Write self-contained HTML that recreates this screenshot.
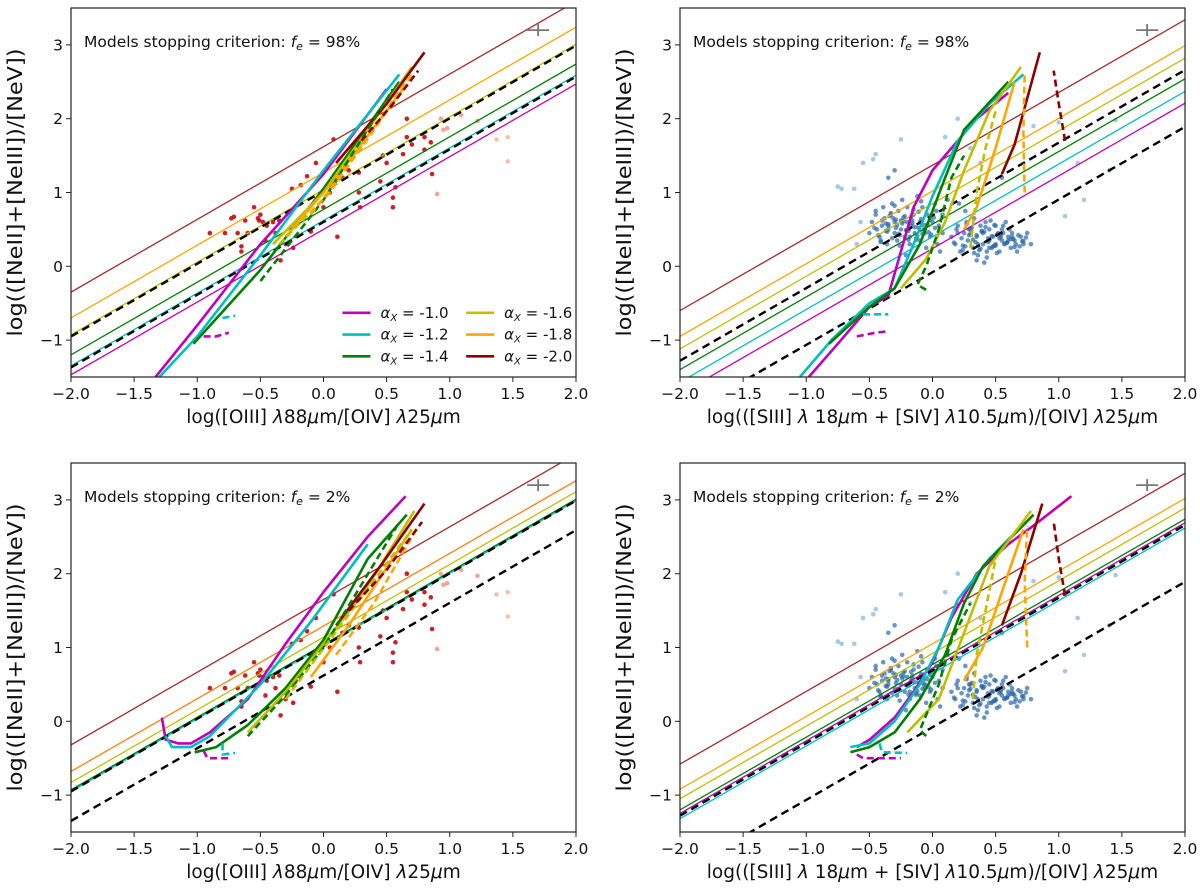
<!DOCTYPE html>
<html><head><meta charset="utf-8"><style>
body{margin:0;background:#fff;}
svg{display:block;font-family:"DejaVu Sans","Liberation Sans",sans-serif;}
</style></head><body>
<svg id="fig" width="1200" height="890" viewBox="0 0 1200 890" xmlns="http://www.w3.org/2000/svg"></svg>
<script>
const xTicks=[-2.0,-1.5,-1.0,-0.5,0.0,0.5,1.0,1.5,2.0];
const yTicks=[-1,0,1,2,3];
const xTickLabels=["\u22122.0","\u22121.5","\u22121.0","\u22120.5","0.0","0.5","1.0","1.5","2.0"];
const yTickLabels=["\u22121","0","1","2","3"];
const seriesNames=["-1.0","-1.2","-1.4","-1.6","-1.8","-2.0"];
const seriesColors=["#bf00bf","#00bfbf","#008000","#bfbf00","#ffa500","#8b0000"];
const diagTL=[["#a52a2a",-0.35],["#ffa500",-0.7],["#bfbf00",-0.93],["#008000",-1.2],["#00bfbf",-1.35],["#bf00bf",-1.47]];
const diagTLdash=[-0.95,-1.37];
const diagTR=[["#a52a2a",-0.6],["#ffa500",-0.95],["#bfbf00",-1.12],["#008000",-1.4],["#00bfbf",-1.57],["#bf00bf",-1.73]];
const diagTRdash=[-1.28,-2.05];
const diagBL=[["#a52a2a",-0.32],["#ff7f0e",-0.68],["#bfbf00",-0.83],["#008000",-0.93],["#00bfbf",-0.95]];
const diagBLdash=[-0.95,-1.35];
const diagBR=[["#a52a2a",-0.58],["#ffa500",-0.92],["#bfbf00",-1.05],["#008000",-1.2],["#bf00bf",-1.25],["#00bfbf",-1.32]];
const diagBRdash=[-1.28,-2.05];
const diagSlope=[0.985];
const redX=[-0.9,-0.78,-0.73,-0.71,-0.68,-0.65,-0.65,-0.62,-0.6,-0.55,-0.52,-0.51,-0.5,-0.48,-0.46,-0.45,-0.4,-0.38,-0.35,-0.34,-0.3,-0.25,-0.24,-0.22,-0.18,-0.13,-0.1,-0.06,0.0,0.05,0.08,0.11,0.15,0.2,0.28,0.28,0.29,0.45,0.47,0.5,0.55,0.55,0.57,0.63,0.66,0.7,0.66,0.8,0.8,0.85,0.86,0.9,0.95,0.98,0.93,1.09,1.22,1.37,1.46,1.46];
const redY=[0.45,0.45,0.65,0.67,0.45,0.27,0.2,0.62,0.45,0.8,0.65,0.62,0.7,0.6,0.35,0.55,0.6,0.45,0.62,0.08,0.3,1.05,0.25,0.55,1.1,1.22,0.47,1.4,0.8,1.0,1.72,0.4,1.2,1.3,1.0,1.27,0.8,1.15,1.5,1.4,0.93,0.8,1.07,1.52,2.0,1.65,1.75,1.58,1.75,1.68,1.25,0.98,1.85,1.87,2.0,2.05,1.97,1.72,1.75,1.42];
const blueX=[-0.75,-0.72,-0.62,-0.57,-0.6,-0.55,-0.47,-0.45,-0.35,-0.3,-0.25,0.2,0.1,0.3,0.38,0.55,0.8,1.0,1.2,1.05,1.4,1.45,1.15,
-0.5,-0.48,-0.45,-0.42,-0.4,-0.38,-0.36,-0.35,-0.33,-0.32,-0.3,-0.3,-0.28,-0.27,-0.25,-0.24,-0.22,-0.2,-0.2,-0.18,-0.17,-0.15,-0.14,-0.12,-0.1,-0.1,-0.08,-0.06,-0.05,-0.04,-0.02,0.0,0.02,0.04,0.05,0.08,-0.44,-0.41,-0.37,-0.34,-0.29,-0.26,-0.23,-0.19,-0.16,-0.13,-0.11,-0.07,-0.03,0.01,0.06,-0.39,-0.31,-0.21,-0.09,0.03,
0.15,0.18,0.2,0.22,0.25,0.27,0.28,0.3,0.32,0.33,0.35,0.36,0.38,0.4,0.4,0.42,0.43,0.45,0.45,0.47,0.48,0.5,0.5,0.52,0.53,0.55,0.55,0.57,0.58,0.6,0.62,0.63,0.65,0.67,0.7,0.72,0.75,0.78,0.24,0.29,0.34,0.39,0.44,0.49,0.54,0.59,0.64,0.69,0.31,0.37,0.46,0.51,0.56,0.61,0.41,0.26,0.21,0.12,0.08,
-0.46,-0.43,-0.4,-0.37,-0.35,-0.32,-0.29,-0.27,-0.24,-0.21,-0.19,-0.17,-0.14,-0.12,-0.09,-0.07,-0.04,-0.01,0.02,-0.45,-0.41,-0.36,-0.33,-0.28,-0.23,-0.18,-0.15,-0.11,-0.06,-0.02,-0.3,-0.26,-0.22,-0.16,-0.13,-0.08,-0.35,-0.25,
0.17,0.2,0.23,0.26,0.29,0.32,0.35,0.38,0.41,0.44,0.47,0.5,0.53,0.56,0.59,0.62,0.65,0.68,0.71,0.74,0.19,0.24,0.3,0.36,0.42,0.48,0.54,0.6,0.66,0.72,0.27,0.33,0.39,0.45,0.51,0.57,0.63,0.43,0.49,0.35];
const blueY=[1.08,1.05,1.05,0.6,0.3,1.4,1.45,1.52,1.2,1.3,1.72,2.0,1.75,1.6,1.4,1.2,1.9,1.95,0.9,0.68,1.3,1.98,1.4,
0.45,0.6,0.75,0.4,0.55,0.65,0.3,0.5,0.7,0.85,0.45,0.6,0.35,0.75,0.5,0.9,0.4,0.6,0.8,0.3,0.55,0.7,0.45,0.95,0.35,0.6,0.8,0.5,0.25,0.7,0.4,0.6,0.85,0.3,0.55,0.45,0.5,0.35,0.58,0.68,0.52,0.42,0.66,0.48,0.62,0.38,0.74,0.56,0.46,0.66,0.2,0.8,0.65,0.15,0.88,0.75,
0.4,0.3,0.55,0.2,0.45,0.6,0.35,0.5,0.25,0.65,0.4,0.15,0.55,0.3,0.45,0.6,0.2,0.35,0.5,0.25,0.4,0.3,0.55,0.45,0.2,0.35,0.5,0.3,0.6,0.4,0.25,0.45,0.35,0.2,0.4,0.3,0.45,0.3,0.28,0.42,0.33,0.48,0.38,0.28,0.43,0.32,0.37,0.27,0.52,0.22,0.62,0.18,0.55,0.5,0.05,0.75,0.85,0.9,0.7,
0.52,0.42,0.62,0.48,0.57,0.38,0.63,0.44,0.58,0.49,0.36,0.67,0.53,0.41,0.64,0.5,0.57,0.43,0.52,0.7,0.33,0.47,0.72,0.56,0.61,0.4,0.77,0.52,0.45,0.63,0.82,0.28,0.68,0.58,0.36,0.44,0.55,0.62,
0.32,0.45,0.38,0.27,0.5,0.36,0.42,0.24,0.47,0.33,0.41,0.28,0.38,0.45,0.32,0.37,0.26,0.42,0.34,0.39,0.5,0.22,0.44,0.3,0.53,0.27,0.4,0.35,0.3,0.34,0.57,0.18,0.47,0.25,0.43,0.31,0.4,0.12,0.56,0.08];
const tlSolid=[[-1.33,-1.5,-1,-0.8,-0.5,0.3,0,1.25,0.5,2.4],[-1.3,-1.5,-1,-0.95,-0.5,0.15,0,1.3,0.6,2.6],[-1.03,-1.05,-0.5,-0.05,0,1.05,0.6,2.5],[-0.4,0.3,0,1.0,0.7,2.7],[-0.3,0.4,0.1,1.2,0.65,2.45],[0.1,1.4,0.5,2.2,0.8,2.9]];
const tlDash=[[-0.95,-0.95,-0.85,-0.95,-0.75,-0.9],[-0.8,-0.7,-0.7,-0.67],[-0.5,-0.2,0,0.9,0.55,2.4],[-0.35,0.3,0.05,1.0,0.65,2.5],[-0.1,0.7,0.3,1.6,0.7,2.6],[0.3,1.7,0.55,2.2,0.75,2.65]];
const trSolid=[[-0.98,-1.5,-0.75,-1.05,-0.5,-0.55,-0.35,-0.4,-0.25,0.2,-0.15,0.8,0,1.3,0.15,1.6,0.35,2.0,0.6,2.35],[-1.05,-1.5,-0.8,-1.0,-0.5,-0.5,-0.3,-0.3,-0.15,0.3,0,0.95,0.2,1.7,0.45,2.2,0.72,2.6],[-0.82,-1.05,-0.5,-0.55,-0.3,-0.3,-0.1,0.3,0.1,1.2,0.25,1.85,0.6,2.5],[-0.25,-0.3,-0.05,0.1,0.1,0.6,0.25,1.3,0.45,2.1,0.7,2.7],[0.25,0.5,0.35,0.8,0.5,1.6,0.65,2.5],[0.55,1.25,0.65,1.65,0.85,2.9]];
const trDash=[[-0.6,-0.95,-0.45,-0.9,-0.35,-0.88],[-0.55,-0.65,-0.35,-0.65],[-0.05,-0.32,-0.12,-0.25,-0.05,0,0.05,0.5,0.15,1.2,0.25,1.5],[0.3,0.25,0.35,1.0,0.42,1.6,0.5,2.1],[0.73,1.0,0.72,1.8,0.73,2.6],[1.05,1.7,1.0,2.2,0.96,2.65]];
const blSolid=[[-1.28,0.05,-1.25,-0.25,-1.15,-0.3,-1.05,-0.3,-0.9,-0.15,-0.6,0.3,-0.3,1.05,0,1.75,0.35,2.5,0.65,3.05],[-1.25,-0.2,-1.2,-0.35,-1.05,-0.35,-0.9,-0.2,-0.5,0.5,-0.1,1.35,0.35,2.4],[-1.02,-0.42,-0.85,-0.35,-0.6,-0.05,-0.3,0.45,0,1.1,0.35,2.2,0.66,2.8],[-0.6,-0.15,-0.3,0.4,0,1.05,0.3,1.7,0.72,2.85],[-0.1,0.6,0.2,1.3,0.7,2.6],[0.1,1.3,0.45,2.1,0.8,2.95]];
const blDash=[[-0.95,-0.4,-0.92,-0.5,-0.75,-0.5],[-0.8,-0.3,-0.8,-0.45,-0.7,-0.43],[-0.6,-0.2,-0.3,0.35,0,1.0,0.6,2.7],[-0.3,0.3,0.05,1.1,0.7,2.6],[0.1,0.9,0.4,1.6,0.75,2.65],[0.2,1.5,0.5,2.05,0.78,2.7]];
const brSolid=[[-0.6,-0.35,-0.5,-0.25,-0.3,0.05,-0.15,0.4,0,0.8,0.15,1.4,0.35,2.0,0.6,2.4,0.8,2.65,1.1,3.05],[-0.65,-0.35,-0.5,-0.3,-0.3,0.0,-0.1,0.5,0.05,1.0,0.2,1.65,0.45,2.2,0.65,2.55],[-0.65,-0.42,-0.5,-0.35,-0.3,-0.15,-0.1,0.3,0.1,0.9,0.25,1.6,0.4,2.1,0.8,2.8],[-0.2,-0.15,0.05,0.3,0.25,1.2,0.45,2.1,0.78,2.85],[0.25,0.55,0.4,1.0,0.55,1.75,0.72,2.6],[0.55,1.3,0.7,2.0,0.87,2.95]];
const brDash=[[-0.6,-0.45,-0.55,-0.5,-0.25,-0.5],[-0.42,-0.3,-0.4,-0.42,-0.2,-0.43],[-0.05,-0.2,-0.1,-0.12,0.05,0.5,0.15,1.1,0.3,1.6],[0.32,0.3,0.35,0.9,0.42,1.5,0.5,2.2],[0.75,1.0,0.73,1.9,0.75,2.65],[1.05,1.7,1.0,2.2,0.96,2.7]];

const NS="http://www.w3.org/2000/svg";
const svg=document.getElementById('fig');
function mk(tag,attrs,parent){const e=document.createElementNS(NS,tag);for(const k in attrs)e.setAttribute(k,attrs[k]);(parent||svg).appendChild(e);return e;}

function panel(px,py,w,h,name,xlabel,diag,diagDash,solid,dash,pts,frac,legend){
  const g=mk('g',{});
  
  
  const sx=v=>px+(v+2)/4*w, sy=v=>py+(3.5-v)/5*h;
  const cid='clip-'+name;
  const cp=mk('clipPath',{id:cid},g);mk('rect',{x:px,y:py,width:w,height:h},cp);
  const pg=mk('g',{'clip-path':'url(#'+cid+')'},g);
  const pgp=mk('g',{},pg);
  
  
  for(let i=0;i<pts[0].length;i++){
    const x=pts[0][i],y=pts[1][i];
    let fill,op;
    if(pts[2]==='red'){const t=Math.min(1,Math.max(0,(x-0.6)/0.9));fill=t>0.3?'#f4937e':'#c8141c';op=t>0.3?0.85:0.95;if(t>0.7)fill='#f8b4a0';}
    else{const far=(x<-0.5||x>0.85||y>1.3);fill=far?'#8dbbe0':'#2b67aa';op=far?0.8:0.7;}
    const c=mk('circle',{cx:sx(x),cy:sy(y),r:pts[2]==='red'?2.3:2.3,fill:fill,'fill-opacity':op},pgp);
    
    
  }
  diag.forEach(d=>{const l=mk('line',{x1:sx(-2),y1:sy(d[1]),x2:sx(2),y2:sy(d[1]+4*diagSlope[0]),stroke:d[0],'stroke-width':1.3},pg);
    
    });
  diagDash.forEach(b=>{const l=mk('line',{x1:sx(-2),y1:sy(b),x2:sx(2),y2:sy(b+4*diagSlope[0]),stroke:'#000','stroke-width':2.4,'stroke-dasharray':'8,5'},pg);
    
    });
  const track=(arr,dashed)=>arr.forEach((s,i)=>{let d='';for(let k=0;k<s.length;k+=2)d+=(k?'L':'M')+sx(s[k]).toFixed(1)+','+sy(s[k+1]).toFixed(1);
    const p=mk('path',{d:d,fill:'none',stroke:seriesColors[i],'stroke-width':2.6,'stroke-linejoin':'round','stroke-dasharray':dashed?'7,4':'none'},pg);
    
    });
  track(solid,false);track(dash,true);
  const cx=sx(1.7),cy=sy(3.2);
  mk('path',{d:`M${cx-11},${cy}H${cx+11}M${cx},${cy-6}V${cy+6}`,stroke:'#777','stroke-width':1.8},g);
  const fr=mk('rect',{x:px,y:py,width:w,height:h,fill:'none',stroke:'#222','stroke-width':1.2},g);
  
  
  xTicks.forEach((t,i)=>{const X=sx(t);mk('line',{x1:X,y1:py+h,x2:X,y2:py+h+5,stroke:'#222'},g);
    const tx=mk('text',{x:X,y:py+h+22,'text-anchor':'middle','font-size':15.5,fill:'#111'},g);tx.textContent=xTickLabels[i];
    
    });
  yTicks.forEach((t,i)=>{const Y=sy(t);mk('line',{x1:px-5,y1:Y,x2:px,y2:Y,stroke:'#222'},g);
    const tx=mk('text',{x:px-8,y:Y+5.5,'text-anchor':'end','font-size':15.5,fill:'#111'},g);tx.textContent=yTickLabels[i];
    
    });
  const xl=mk('text',{x:px+w/2,y:py+h+46,'text-anchor':'middle','font-size':18.5,fill:'#111'},g);xl.innerHTML=xlabel;
  
  
  const yx=px-49,yy=py+h/2;
  const yl=mk('text',{x:yx,y:yy,'text-anchor':'middle','font-size':20,fill:'#111',textLength:288,lengthAdjust:'spacingAndGlyphs',transform:`rotate(-90 ${yx} ${yy})`},g);yl.textContent='log(([NeII]+[NeIII])/[NeV])';
  
  
  const an=mk('text',{x:px+13,y:py+39,'font-size':15.5,fill:'#111'},g);
  an.innerHTML='Models stopping criterion: <tspan font-style="italic">f</tspan><tspan font-style="italic" font-size="11" dy="3">e</tspan><tspan dy="-3"> = '+frac+'</tspan>';
  
  
  if(legend){
    const lg=mk('g',{},g);
    
    
    seriesNames.forEach((n,i)=>{const col=Math.floor(i/3),row=i%3;
      const lx=col?sx(1.13):sx(0.15),ly=sy(-0.63-row*0.295);
      const e=mk('g',{},lg);
      
      
      mk('line',{x1:lx,y1:ly,x2:lx+28,y2:ly,stroke:seriesColors[i],'stroke-width':2.6},e);
      const t=mk('text',{x:lx+38,y:ly+5,'font-size':15,fill:'#111'},e);
      t.innerHTML='<tspan font-style="italic">α</tspan><tspan font-style="italic" font-size="10" dy="3">X</tspan><tspan dy="-3"> = '+n+'</tspan>';});
  }
}
const xl1='log([OIII] <tspan font-style="italic">λ</tspan>88<tspan font-style="italic">μ</tspan>m/[OIV] <tspan font-style="italic">λ</tspan>25<tspan font-style="italic">μ</tspan>m';
const xl2='log(([SIII] <tspan font-style="italic">λ</tspan> 18<tspan font-style="italic">μ</tspan>m + [SIV] <tspan font-style="italic">λ</tspan>10.5<tspan font-style="italic">μ</tspan>m)/[OIV] <tspan font-style="italic">λ</tspan>25<tspan font-style="italic">μ</tspan>m';
panel(71,8,505,369,'panel-top-left',xl1,diagTL,diagTLdash,tlSolid,tlDash,[redX,redY,'red'],'98%',true);
panel(680,8,505,369,'panel-top-right',xl2,diagTR,diagTRdash,trSolid,trDash,[blueX,blueY,'blue'],'98%',false);
panel(71,463,505,369,'panel-bottom-left',xl1,diagBL,diagBLdash,blSolid,blDash,[redX,redY,'red'],'2%',false);
panel(680,463,505,369,'panel-bottom-right',xl2,diagBR,diagBRdash,brSolid,brDash,[blueX,blueY,'blue'],'2%',false);
</script>
</body></html>
